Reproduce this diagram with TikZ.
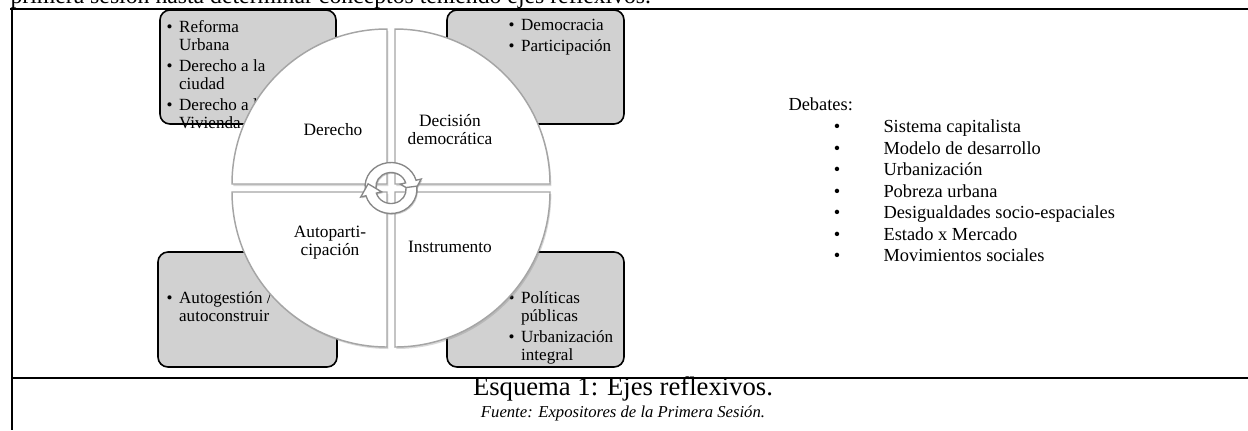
\documentclass[tikz,border=0pt]{standalone}
\usepackage{fontspec}
\setmainfont{Liberation Serif}
\usetikzlibrary{shadows}

\tikzset{every picture/.style={line width=0.75pt}}
\tikzset{
  rulerline/.style={line width=1.9pt},
  topicbox/.style={draw=black, line width=1.2pt, fill={rgb, 255:red, 209; green, 209; blue, 209}, rounded corners=7.5pt},
  quarter/.style={draw={rgb, 255:red, 165; green, 165; blue, 165}, line width=1.1pt, fill=white,
    drop shadow={opacity=0.3, shadow xshift=1pt, shadow yshift=-1.5pt}},
  turnarrow/.style={draw={rgb, 255:red, 135; green, 135; blue, 135}, line width=1pt, fill=white,
    drop shadow={opacity=0.4, shadow xshift=0.8pt, shadow yshift=-1pt}},
  boxtext/.style={anchor=north west, inner sep=0.75pt, align=left, font=\fontsize{12.8}{13.5}\selectfont},
  axislabel/.style={inner sep=0.75pt, align=center, font=\fontsize{13}{13.5}\selectfont},
  debatetext/.style={inner sep=0.75pt, text height=1.5ex, text depth=.25ex, font=\fontsize{13.8}{16}\selectfont}
}
\newcommand{\blt}{\makebox[9.5pt][l]{\textbullet}}
\newcommand{\bltind}{\hspace*{9.5pt}}

\begin{document}
\begin{tikzpicture}[x=0.75pt,y=0.75pt,yscale=-1,xscale=1]
\useasboundingbox (0,0) rectangle (1248,430);
\clip (0,0) rectangle (1248,430);

% Text Node (line above the table, cut by the page)
\node [anchor=base west, inner sep=0pt, font=\fontsize{17.8}{20}\selectfont] (intro) at (10,3) {primera sesión hasta determinar conceptos teniendo ejes reflexivos.};

%Table rules
\draw [rulerline] (10,9) -- (1248,9) ;
\draw [rulerline] (12,8) -- (12,430) ;
\draw [rulerline] (12,378) -- (1248,378) ;

%Rounded Rect
\draw [topicbox] (160,10) rectangle (336,124) ;
\draw [topicbox] (447,10) rectangle (624,124) ;
\draw [topicbox] (158,252) rectangle (337,367) ;
\draw [topicbox] (447,252) rectangle (624,367) ;

% Text Node
\node [boxtext] (derlist) at (165,19) {\blt Reforma\\\bltind Urbana\\[2.3pt]\blt Derecho a la\\\bltind ciudad\\[2.3pt]\blt Derecho a la\\\bltind Vivienda};
% Text Node
\node [boxtext] (declist) at (507,18) {\blt Democracia\\[2.3pt]\blt Participación};
% Text Node
\node [boxtext] (autlist) at (165,290) {\blt Autogestión /\\\bltind autoconstruir};
% Text Node
\node [boxtext] (inslist) at (507,290) {\blt Políticas\\\bltind públicas\\[2.3pt]\blt Urbanización\\\bltind integral};

%Shape: Quarter circles
\path [quarter] (387,184) -- ++(-155,0) arc[start angle=180, end angle=270, radius=155] -- cycle ;
\path [quarter] (395,184) -- ++(0,-155) arc[start angle=270, end angle=360, radius=155] -- cycle ;
\path [quarter] (395,192) -- ++(155,0) arc[start angle=0, end angle=90, radius=155] -- cycle ;
\path [quarter] (387,192) -- ++(0,155) arc[start angle=90, end angle=180, radius=155] -- cycle ;

% Text Node
\node [axislabel] (derecho) at (333,130) {Derecho};
% Text Node
\node [axislabel] (decision) at (450,130) {Decisión\\democrática};
% Text Node
\node [axislabel] (autopart) at (330,243) {Autoparti-\\cipación};
% Text Node
\node [axislabel] (instrumento) at (450,247) {Instrumento};

%Shape: circular arrows
\begin{scope}[shift={(391,188)}, yscale=-1]
  \foreach \turn in {0,180}{
    \begin{scope}[rotate=\turn, xscale=1.08, shift={(0,1.5)}]
      \path [turnarrow] (188:24) arc[start angle=188, end angle=15, radius=24] -- (15:29) -- (21.2,-5.7) -- (15:9) -- (15:14) arc[start angle=15, end angle=188, radius=14] -- cycle ;
    \end{scope}
  }
\end{scope}

% Text Node
\node [debatetext, anchor=west] (debates) at (787,107) {Debates:};
\foreach \item [count=\i] in {Sistema capitalista, Modelo de desarrollo, Urbanización, Pobreza urbana, Desigualdades socio-espaciales, Estado x Mercado, Movimientos sociales}{
  \node [debatetext] (bullet\i) at (837,107.5+21.5*\i) {\textbullet};
  \node [debatetext, anchor=west] (debate\i) at (882,107.5+21.5*\i) {\item};
}

% Text Node
\node [inner sep=0.75pt, font=\fontsize{20}{22}\selectfont] (caption) at (623,389) {Esquema 1: Ejes reflexivos.};
% Text Node
\node [inner sep=0.75pt, font=\fontsize{12.5}{14}\selectfont\itshape] (source) at (623,413) {Fuente: Expositores de la Primera Sesión.};

\end{tikzpicture}
\end{document}
